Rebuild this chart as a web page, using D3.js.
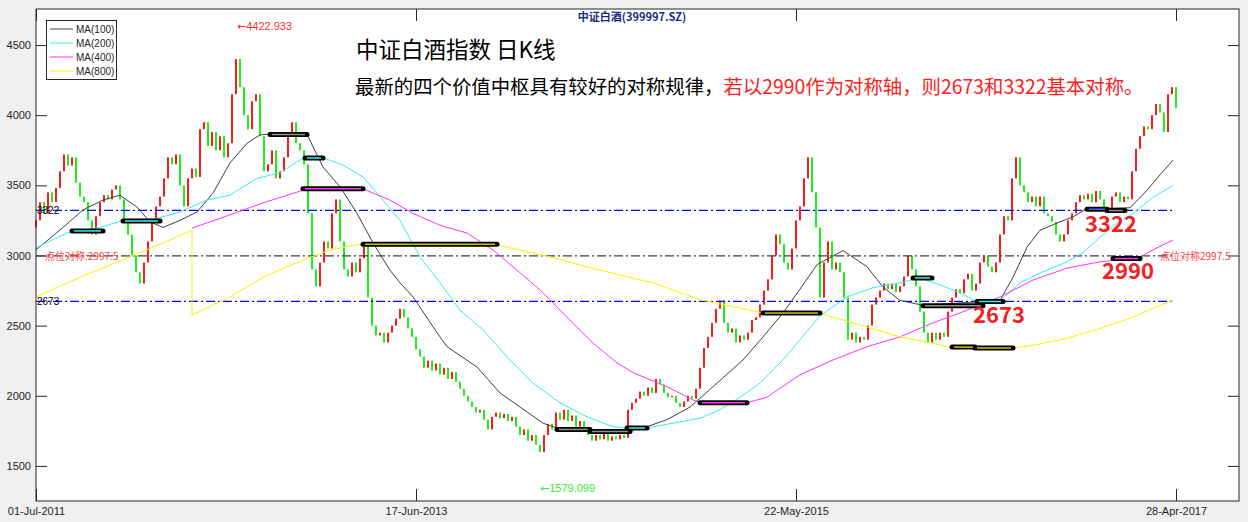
<!DOCTYPE html>
<html>
<head>
<meta charset="utf-8">
<script src="https://cdn.jsdelivr.net/npm/d3@7"></script>
<style>
body { margin: 0; background: #f0f0f0; }
svg { display: block; font-family: "Liberation Sans", Arial, sans-serif; }
</style>
</head>
<body>
<svg id="chart" width="1248" height="522"></svg>
<script>
// daily K line (one close per sample point, ~5 trading days apart)
var closes = [
  3250,3380,3300,3450,3380,3480,3600,3720,3640,3700,
  3520,3420,3380,3250,3150,3280,3380,3430,3400,3470,
  3500,3400,3250,3150,3000,2880,2800,2950,3100,3250,
  3350,3420,3550,3700,3650,3720,3500,3350,3550,3620,
  3560,3900,3950,3780,3880,3750,3850,3700,3800,4150,
  4400,4200,4000,3900,4100,4150,3850,3600,3650,3750,
  3550,3600,3700,3850,3950,3800,3750,3650,3300,2900,
  2780,2950,3100,3050,3300,3400,3100,2900,2850,2950,
  2880,2980,3080,2700,2500,2430,2450,2380,2450,2500,
  2550,2620,2560,2480,2420,2330,2280,2200,2250,2180,
  2230,2150,2200,2120,2170,2100,2050,2000,1960,1920,
  1880,1900,1830,1760,1850,1880,1840,1870,1820,1850,
  1780,1720,1760,1680,1720,1650,1600,1720,1800,1760,
  1880,1830,1900,1820,1860,1780,1820,1760,1720,1680,
  1720,1690,1730,1680,1710,1690,1720,1700,1900,1950,
  1980,2030,2000,2060,2020,2120,2080,2020,1990,2000,
  1950,1920,1960,2000,1980,2050,2200,2340,2420,2520,
  2620,2680,2520,2450,2480,2380,2430,2400,2450,2540,
  2560,2650,2750,2830,3000,3150,3080,2950,2900,3050,
  3250,3350,3550,3700,3450,3200,2700,2950,3100,2900,
  2950,2880,2700,2400,2450,2380,2420,2400,2500,2650,
  2700,2750,2800,2760,2800,2740,2780,2850,3000,2900,
  2780,2600,2450,2380,2450,2400,2450,2420,2600,2700,
  2760,2730,2830,2870,2750,2800,2950,3000,2920,2880,
  2950,3150,3280,3250,3550,3700,3500,3450,3380,3420,
  3350,3420,3300,3280,3240,3150,3100,3150,3250,3300,
  3380,3430,3400,3440,3380,3460,3400,3330,3310,3420,
  3450,3380,3420,3400,3600,3760,3850,3920,3900,4000,
  4080,4020,3880,4150,4200,4050
];
var firstOpen = 3200;

var xTickIdx = [0, 95, 190, 285];
var xTickLabels = ["01-Jul-2011", "17-Jun-2013", "22-May-2015", "28-Apr-2017"];
var yTicks = [1500, 2000, 2500, 3000, 3500, 4000, 4500];

// moving averages: [sample index, value]
var ma100 = [[0,3040],[6.75,3200],[11.75,3325],[16.75,3395],[21,3430],[25.25,3345],[28.5,3240],[31.75,3200],
  [36,3250],[40.25,3310],[44.25,3445],[48.5,3660],[52.75,3800],[56,3860],[58.5,3865],[67.75,3865],
  [69.25,3775],[71.75,3630],[76,3490],[80.25,3300],[84.25,3090],[88.5,2895],[91,2805],[94.25,2705],
  [100.25,2450],[102.75,2350],[110.25,2205],[116,2020],[121,1920],[126.75,1805],[130.25,1770],[132.75,1758],
  [148.5,1750],[152.75,1780],[157.75,1830],[163.5,1920],[170.25,2090],[176.75,2255],[181.75,2420],
  [186.75,2590],[191,2760],[195.25,2935],[201.75,3035],[207.75,2920],[211.75,2775],[216,2680],[221.75,2645],
  [241,2680],[244.25,2845],[247.75,3060],[251,3180],[256,3240],[259.25,3275],[262.75,3335],[273.5,3340],
  [277.75,3465],[281,3575],[284.25,3680]];
var ma200 = [[0,3055],[7.75,3160],[16,3200],[21.75,3250],[30.25,3265],[36,3310],[42.75,3395],[48.5,3430],
  [55.25,3550],[61,3590],[66.75,3695],[71.75,3695],[76.75,3645],[81.75,3560],[86.75,3395],[91,3250],
  [96,2990],[101,2805],[106,2610],[111.75,2470],[118.5,2255],[124.25,2090],[131,1950],[137.75,1850],
  [144.25,1780],[147.75,1770],[152.75,1770],[159.25,1805],[166,1840],[171,1900],[176,1990],[181,2090],
  [186.75,2255],[191,2400],[196,2570],[202.75,2705],[209.25,2770],[216,2805],[221,2840],[226,2790],
  [231,2735],[235.25,2670],[241,2680],[246,2805],[251,2875],[257.75,2955],[261.75,3020],[266,3130],
  [270.25,3230],[274.25,3300],[279.25,3415],[284.25,3500]];
var ma400 = [[39,3195],[48.5,3290],[56.75,3375],[66.75,3465],[81.75,3475],[88.5,3395],[94.25,3300],
  [101,3215],[107.75,3160],[114.25,3040],[120.25,2895],[126,2755],[132.75,2560],[139.25,2375],
  [145.25,2235],[149.25,2165],[157.75,2065],[164.25,1970],[166,1955],[177.75,1950],[182.75,1990],
  [191,2150],[199.25,2255],[207.75,2350],[216,2420],[224.25,2520],[232.75,2610],[241,2705],
  [249.25,2825],[257.75,2910],[266,2955],[272.75,2975],[276,2990],[280.25,3055],[284.25,3110]];
var ma800 = [[0,2705],[11,2845],[23.5,2990],[31.75,3090],[39,3180],[39,2575],[48.5,2705],[56.75,2845],
  [65.25,2950],[73.5,3040],[81.75,3085],[115.25,3075],[128.5,2990],[141,2895],[154.25,2805],[166,2685],
  [174.25,2635],[181.75,2590],[196,2590],[199.25,2560],[207.75,2490],[216,2420],[224.25,2375],
  [228.5,2345],[244.25,2340],[249.25,2360],[257.75,2410],[266,2480],[274.25,2560],[279.25,2625],
  [284.25,2680]];
var maNames = ["MA(100)", "MA(200)", "MA(400)", "MA(800)"];
var maColors = ["#404040", "#33f0f0", "#ff33ff", "#f5f500"];

// value pivots (中枢)
var pivStart = [9, 21.75, 58.5, 67.25, 66.75, 81.75, 130.25, 138.5, 147.75, 166, 181.75, 219.25, 221.75, 235.25, 229, 234.75, 262.75, 267.75, 269.25];
var pivEnd   = [16.75, 31, 67.75, 71.75, 81.75, 115.25, 138.5, 148.5, 152.75, 177.75, 196, 224, 236.75, 241.75, 234.75, 244.25, 267.75, 272.25, 276];
var pivValue = [3175, 3245, 3862, 3695, 3475, 3080, 1760, 1745, 1770, 1950, 2590, 2840, 2642, 2672, 2347, 2340, 3330, 3320, 2978];
var pivColor = ["#33f0f0","#33f0f0","#909090","#33f0f0","#ff33ff","#c8c800","#909090","#909090","#33f0f0","#ff33ff","#c8c800",
                "#33f0f0","#909090","#33f0f0","#c8c800","#c8c800","#4060ff","#909090","#ff33ff"];

// reference lines
var refValues = [3322, 2997.5, 2673];
var refColors = ["#0000ff", "#404040", "#0000ff"];
var refEnd = 284.5;

var width = 1248, height = 522;
var margin = {left: 36, top: 9, right: 1239, bottom: 501};

var svg = d3.select("#chart");

var x = d3.scaleLinear().domain([0, 300.75]).range([margin.left, margin.right]);
var y = d3.scaleLinear().domain([1250, 4757]).range([margin.bottom, margin.top]);

// plot area
svg.append("rect")
  .attr("x", margin.left).attr("y", margin.top)
  .attr("width", margin.right - margin.left).attr("height", margin.bottom - margin.top)
  .attr("fill", "#fff");

// axes
var axisStyle = function(g) {
  g.select(".domain").remove();
  g.selectAll("line").attr("stroke", "#262626");
  g.selectAll("text").attr("fill", "#262626").style("font-size", "11px")
    .style("font-family", "'Liberation Sans', Arial, sans-serif");
};

svg.append("g")
  .attr("transform", "translate(" + margin.left + ",0)")
  .call(d3.axisLeft(y).tickValues(yTicks).tickSize(-11).tickPadding(5).tickFormat(d3.format("d")))
  .call(axisStyle);

svg.append("g")
  .attr("transform", "translate(" + margin.right + ",0)")
  .call(d3.axisRight(y).tickValues(yTicks).tickSize(-11).tickFormat(""))
  .call(axisStyle);

svg.append("g")
  .attr("transform", "translate(0," + margin.bottom + ")")
  .call(d3.axisBottom(x).tickValues(xTickIdx).tickSize(-12).tickPadding(6)
    .tickFormat(function(d, i) { return xTickLabels[i]; }))
  .call(axisStyle);

svg.append("g")
  .attr("transform", "translate(0," + margin.top + ")")
  .call(d3.axisTop(x).tickValues(xTickIdx).tickSize(-12).tickFormat(""))
  .call(axisStyle);

// candles
var candles = closes.map(function(c, i) {
  return {i: i, open: i == 0 ? firstOpen : closes[i - 1], close: c};
});

svg.append("g")
  .selectAll("rect")
  .data(candles)
  .enter()
  .append("rect")
  .attr("x", d => x(d.i) - 0.9)
  .attr("width", 1.8)
  .attr("y", d => y(Math.max(d.open, d.close)))
  .attr("height", d => Math.max(1, Math.abs(y(d.open) - y(d.close))))
  .attr("fill", d => d.close >= d.open ? "#ff0000" : "#00ee00");

// reference lines
svg.append("g")
  .selectAll("line")
  .data(refValues)
  .enter()
  .append("line")
  .attr("x1", x(0)).attr("x2", x(refEnd))
  .attr("y1", d => y(d)).attr("y2", d => y(d))
  .attr("stroke", (d, i) => refColors[i])
  .attr("stroke-width", 1.2)
  .attr("stroke-dasharray", "9,3,2,3");

// moving averages
var line = d3.line().x(d => x(d[0])).y(d => y(d[1]));
[ma100, ma200, ma400, ma800].forEach(function(ma, k) {
  svg.append("path")
    .datum(ma)
    .attr("d", line)
    .attr("fill", "none")
    .attr("stroke", maColors[k])
    .attr("stroke-width", 1);
});

// pivot bars
var pivots = pivStart.map(function(s, i) {
  return {s: s, e: pivEnd[i], v: pivValue[i], c: pivColor[i]};
});
var pg = svg.append("g");
pg.selectAll("line.outer")
  .data(pivots).enter().append("line")
  .attr("class", "outer")
  .attr("x1", d => x(d.s)).attr("x2", d => x(d.e))
  .attr("y1", d => y(d.v)).attr("y2", d => y(d.v))
  .attr("stroke", "#000").attr("stroke-width", 5).attr("stroke-linecap", "round");
pg.selectAll("line.inner")
  .data(pivots).enter().append("line")
  .attr("class", "inner")
  .attr("x1", d => x(d.s) + 2).attr("x2", d => x(d.e) - 2)
  .attr("y1", d => y(d.v)).attr("y2", d => y(d.v))
  .attr("stroke", d => d.c).attr("stroke-width", 1.5);

// frame
svg.append("rect")
  .attr("x", margin.left).attr("y", margin.top)
  .attr("width", margin.right - margin.left).attr("height", margin.bottom - margin.top)
  .attr("fill", "none").attr("stroke", "#262626").attr("stroke-width", 1);

// reference labels
svg.append("text").attr("x", x(0) + 1).attr("y", y(3322) + 4)
  .style("font-size", "10px").attr("fill", "#000").text("3322");
svg.append("text").attr("x", x(0) + 1).attr("y", y(2673) + 4)
  .style("font-size", "10px").attr("fill", "#000").text("2673");
svg.append("text").attr("x", x(2.25)).attr("y", y(2997.5) + 4)
  .style("font-size", "10px").style("font-family", "'Noto Sans CJK SC', sans-serif")
  .attr("fill", "#ff4040").text("点位对称:2997.5");
svg.append("text").attr("x", x(281)).attr("y", y(2997.5) + 4)
  .style("font-size", "10px").style("font-family", "'Noto Sans CJK SC', sans-serif")
  .attr("fill", "#ff4040").text("点位对称2997.5");

// big pivot numbers
var bigLabels = ["3322", "2990", "2673"];
var bigIdx = [262.25, 266.5, 234.25];
var bigVal = [3322, 2990, 2673];
svg.append("g").selectAll("text")
  .data(bigLabels).enter().append("text")
  .attr("x", (d, i) => x(bigIdx[i]))
  .attr("y", (d, i) => y(bigVal[i]) + 22)
  .style("font-size", "22px").style("font-weight", "bold")
  .style("font-family", "'Noto Sans CJK SC', 'Noto Sans', sans-serif")
  .attr("fill", "#ee2222")
  .text(d => d);

// extreme annotations
var hiNote = svg.append("text").attr("x", x(50.25)).attr("y", 30)
  .style("font-size", "11px").attr("fill", "#ff3030");
hiNote.append("tspan").style("font-family", "'DejaVu Sans', sans-serif").text("←");
hiNote.append("tspan").text("4422.933");
var loNote = svg.append("text").attr("x", x(126)).attr("y", 492)
  .style("font-size", "11px").attr("fill", "#33ee33");
loNote.append("tspan").style("font-family", "'DejaVu Sans', sans-serif").text("←");
loNote.append("tspan").text("1579.099");

// titles
svg.append("text").attr("x", 632).attr("y", 21).attr("text-anchor", "middle")
  .style("font-size", "11px").style("font-weight", "bold")
  .style("font-family", "'Noto Sans CJK SC', sans-serif")
  .attr("fill", "#1a2a80").text("中证白酒(399997.SZ)");

svg.append("text").attr("x", 356).attr("y", 58)
  .style("font-size", "22.5px").style("font-family", "'Noto Sans CJK SC', sans-serif")
  .attr("fill", "#000").text("中证白酒指数 日K线");

var sub = svg.append("text").attr("x", 355).attr("y", 94)
  .style("font-size", "19.4px").style("font-family", "'Noto Sans CJK SC', sans-serif");
sub.append("tspan").attr("fill", "#000").text("最新的四个价值中枢具有较好的对称规律，");
sub.append("tspan").attr("fill", "#ff2020").text("若以2990作为对称轴，则2673和3322基本对称。");

// legend
var lg = svg.append("g");
lg.append("rect").attr("x", 46.5).attr("y", 20.5).attr("width", 70).attr("height", 59)
  .attr("fill", "#fff").attr("stroke", "#262626");
maNames.forEach(function(n, k) {
  var ly = 29 + k * 14;
  lg.append("line").attr("x1", 50).attr("x2", 73).attr("y1", ly).attr("y2", ly)
    .attr("stroke", k == 0 ? "#808080" : maColors[k]).attr("stroke-width", k == 0 ? 1.5 : 1);
  lg.append("text").attr("x", 76).attr("y", ly + 3.5)
    .style("font-size", "10px").attr("fill", "#262626").text(n);
});
</script>
</body>
</html>
